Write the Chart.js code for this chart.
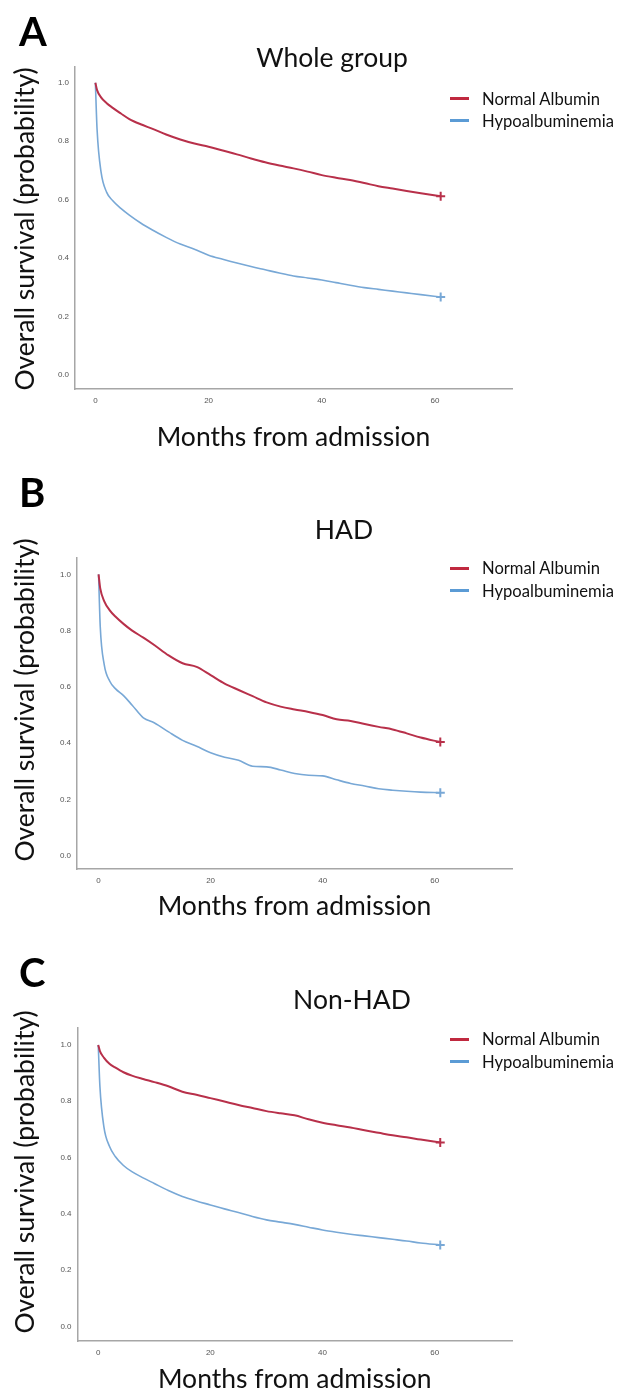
<!DOCTYPE html>
<html>
<head>
<meta charset="utf-8">
<script src="https://cdn.jsdelivr.net/npm/chart.js@4.4.0/dist/chart.umd.min.js"></script>
<style>
  body { margin: 0; background: #fff; width: 623px; height: 1392px; position: relative; overflow: hidden; font-family: Lato, sans-serif; color: #111; }
  .panel { position: absolute; left: 0; width: 623px; }
  .letter { position: absolute; left: 19px; font-weight: 700; font-size: 40px; line-height: 40px; color: #000; }
  .title { position: absolute; width: 300px; text-align: center; font-size: 26.5px; line-height: 30px; }
  .ytitle { position: absolute; width: 400px; text-align: center; font-size: 26.5px; line-height: 32px; transform: rotate(-90deg); transform-origin: 50% 50%; white-space: nowrap; }
  .swatch { position: absolute; left: 450px; width: 19px; height: 3px; }
  .label { position: absolute; left: 482px; font-size: 16.6px; line-height: 20px; white-space: nowrap; }
</style>
</head>
<body>
<script>
const months = [0, 0.3, 1, 2, 3, 4.5, 6, 8, 10, 12.5, 15, 17.5, 20, 22.5, 25, 27.5, 30,
                32.5, 35, 37.5, 40, 42.5, 45, 47.5, 50, 52.5, 55, 57.5, 61];

const seriesNames = ['Normal Albumin', 'Hypoalbuminemia'];
const panelTitles = ['Whole group', 'HAD', 'Non-HAD'];
const panelLetters = ['A', 'B', 'C'];

const monthTicks = [0, 20, 40, 60];
const survTicks = [0, 0.2, 0.4, 0.6, 0.8, 1.0];

// A - whole group
const wholeNormal = [1.0, 0.975, 0.95, 0.93, 0.915, 0.895, 0.876, 0.858, 0.843, 0.823, 0.806, 0.792, 0.781, 0.768, 0.755,
                     0.741, 0.728, 0.717, 0.707, 0.696, 0.684, 0.675, 0.667, 0.657, 0.646, 0.638, 0.630, 0.622, 0.612];
const wholeHypo   = [1.0, 0.84, 0.695, 0.625, 0.598, 0.57, 0.547, 0.52, 0.497, 0.471, 0.448, 0.43, 0.41, 0.396, 0.383,
                     0.371, 0.36, 0.349, 0.339, 0.332, 0.325, 0.316, 0.307, 0.299, 0.293, 0.287, 0.281, 0.275, 0.267];
// B - HAD
const hadNormal = [1.0, 0.95, 0.905, 0.872, 0.85, 0.823, 0.8, 0.775, 0.748, 0.712, 0.684, 0.671, 0.642, 0.612, 0.589,
                   0.567, 0.545, 0.53, 0.52, 0.511, 0.5, 0.485, 0.479, 0.468, 0.458, 0.449, 0.435, 0.42, 0.404];
const hadHypo   = [1.0, 0.814, 0.68, 0.62, 0.594, 0.568, 0.535, 0.49, 0.472, 0.44, 0.41, 0.389, 0.366, 0.35, 0.339,
                   0.318, 0.316, 0.305, 0.292, 0.286, 0.284, 0.27, 0.257, 0.248, 0.238, 0.233, 0.229, 0.226, 0.224];
// C - Non-HAD
const nonHadNormal = [1.0, 0.978, 0.955, 0.933, 0.92, 0.903, 0.891, 0.879, 0.868, 0.853, 0.834, 0.823, 0.811, 0.799, 0.787,
                      0.776, 0.765, 0.757, 0.75, 0.736, 0.724, 0.715, 0.707, 0.697, 0.688, 0.679, 0.672, 0.664, 0.654];
const nonHadHypo   = [1.0, 0.852, 0.71, 0.64, 0.605, 0.572, 0.55, 0.528, 0.508, 0.483, 0.462, 0.446, 0.432, 0.418, 0.405,
                      0.391, 0.379, 0.371, 0.363, 0.353, 0.343, 0.335, 0.328, 0.322, 0.316, 0.31, 0.304, 0.297, 0.29];

const colors = ['#b8304a', '#78a8d6'];
const legendColors = ['#c0293f', '#5b9bd5'];

// layout of each panel on the page
const panels = [
  { top: 0,   height: 460, left: 75,   right: 512, areaTop: 67,   areaBottom: 389,  yMin: -0.048, yMax: 1.054, xMin: -3.6,  xMax: 73.6,
    xTitleY: 437,  yTitleY: 228.5, titleX: 332, titleY: 57,  letterY: 31,  legendY: [98.7, 120.7], series: [wholeNormal, wholeHypo] },
  { top: 460, height: 460, left: 77,   right: 512, areaTop: 558,  areaBottom: 869,  yMin: -0.047, yMax: 1.058, xMin: -3.85, xMax: 73.8,
    xTitleY: 906,  yTitleY: 700,   titleX: 344, titleY: 529, letterY: 492, legendY: [568.3, 590.7], series: [hadNormal, hadHypo] },
  { top: 920, height: 472, left: 77.5, right: 512, areaTop: 1028, areaBottom: 1341, yMin: -0.051, yMax: 1.06,  xMin: -3.7,  xMax: 73.8,
    xTitleY: 1379, yTitleY: 1171.5, titleX: 352, titleY: 999, letterY: 972, legendY: [1039.3, 1061.7], series: [nonHadNormal, nonHadHypo] }
];

function addText(cls, text, css) {
  const el = document.createElement('div');
  el.className = cls;
  el.textContent = text;
  Object.assign(el.style, css);
  document.body.appendChild(el);
  return el;
}

function makePanel(p, idx) {
  const wrap = document.createElement('div');
  wrap.className = 'panel';
  wrap.style.top = p.top + 'px';
  wrap.style.height = p.height + 'px';
  const canvas = document.createElement('canvas');
  canvas.width = 623;
  canvas.height = p.height;
  wrap.appendChild(canvas);
  document.body.appendChild(wrap);

  const last = months.length - 1;
  const titleFont = { family: 'Lato', size: 26.5 };
  const lh = 26.5 * 1.2;

  new Chart(canvas, {
    type: 'line',
    data: {
      datasets: p.series.map((vals, i) => ({
        label: seriesNames[i],
        data: months.map((m, k) => ({ x: m, y: vals[k] })),
        borderColor: colors[i],
        backgroundColor: colors[i],
        borderWidth: i === 0 ? 2 : 1.6,
        cubicInterpolationMode: 'monotone',
        pointStyle: 'cross',
        pointRadius: ctx => ctx.dataIndex === last ? 4.5 : 0,
        pointBorderWidth: 2,
        pointHoverRadius: 0,
        fill: false
      }))
    },
    options: {
      responsive: false,
      animation: false,
      events: [],
      layout: { padding: { left: 0, top: p.areaTop - p.top, right: 623 - p.right, bottom: 0 } },
      plugins: { legend: { display: false }, title: { display: false }, tooltip: { enabled: false } },
      scales: {
        x: {
          type: 'linear',
          min: p.xMin,
          max: p.xMax,
          grid: { display: false, drawTicks: false },
          border: { display: true, color: '#a6a6a6', width: 1.5 },
          afterBuildTicks: s => { s.ticks = monthTicks.map(v => ({ value: v })); },
          afterFit: s => { s.height = p.height - (p.areaBottom - p.top); },
          ticks: { padding: 7, color: '#555', font: { family: 'Liberation Sans', size: 8 }, callback: v => String(v), maxRotation: 0 },
          title: {
            display: true, text: 'Months from admission', color: '#111', font: titleFont,
            padding: { top: 0, bottom: p.height - (p.xTitleY - p.top) - lh / 2 }
          }
        },
        y: {
          type: 'linear',
          min: p.yMin,
          max: p.yMax,
          grid: { display: false, drawTicks: false },
          border: { display: true, color: '#a6a6a6', width: 1.5 },
          afterBuildTicks: s => { s.ticks = survTicks.map(v => ({ value: v })); },
          afterFit: s => { s.width = p.left; },
          ticks: { padding: 6, color: '#555', font: { family: 'Liberation Sans', size: 8 }, callback: v => v.toFixed(1) }
        }
      }
    }
  });

  // y axis title sits a little above the axis centre in panels B and C, so it is placed by hand
  addText('ytitle', 'Overall survival (probability)', { left: (24 - 200) + 'px', top: (p.yTitleY - 16) + 'px' });
  addText('letter', panelLetters[idx], { top: (p.letterY - 20) + 'px' });
  addText('title', panelTitles[idx], { left: (p.titleX - 150) + 'px', top: (p.titleY - 15) + 'px' });
  seriesNames.forEach((name, i) => {
    const sw = document.createElement('div');
    sw.className = 'swatch';
    sw.style.top = (p.legendY[i] - 1.5) + 'px';
    sw.style.background = legendColors[i];
    document.body.appendChild(sw);
    addText('label', name, { top: (p.legendY[i] - 10) + 'px' });
  });
}

panels.forEach(makePanel);
</script>
</body>
</html>
